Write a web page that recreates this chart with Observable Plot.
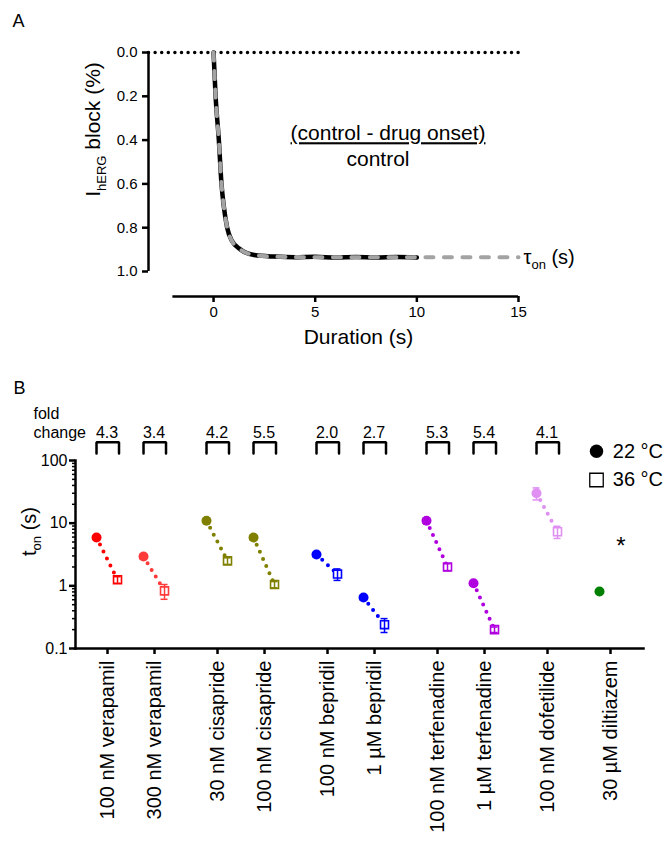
<!DOCTYPE html>
<html><head><meta charset="utf-8">
<script src="https://cdn.jsdelivr.net/npm/d3@7"></script>
<script src="https://cdn.jsdelivr.net/npm/@observablehq/plot@0.6"></script>
<style>
body{margin:0;background:#fff;font-family:"Liberation Sans",Arial,sans-serif;}
#chart{width:670px;height:843px;}
#chart svg{display:block;}
</style></head><body><div id="chart"></div>
<script>
// ---------- Panel A data ----------
const traceTime  = [0, 0.1, 0.26, 0.39, 0.5, 0.67, 0.9, 1.33, 2, 3, 4, 5, 6, 7, 8, 9, 10];
const traceBlock = [0, 0.2, 0.4, 0.6, 0.7, 0.8, 0.86, 0.9, 0.925, 0.932, 0.935, 0.933, 0.936, 0.934, 0.936, 0.934, 0.936];
const fitTime    = [0, 0.1, 0.26, 0.39, 0.5, 0.67, 0.9, 1.33, 2, 3, 5, 8, 10, 15];
const fitBlock   = [0, 0.2, 0.4, 0.6, 0.7, 0.8, 0.86, 0.9, 0.925, 0.932, 0.935, 0.935, 0.935, 0.935];
const controlTime  = [-3.2, 15];
const controlBlock = [0, 0];
const aYTicks = [0, 0.2, 0.4, 0.6, 0.8, 1.0];
const aXTicks = [0, 5, 10, 15];
const aXAxisStart = -2;

// ---------- Panel B data ----------
const conditions = ["100 nM verapamil", "300 nM verapamil", "30 nM cisapride", "100 nM cisapride",
  "100 nM bepridil", "1 µM bepridil", "100 nM terfenadine", "1 µM terfenadine", "100 nM dofetilide", "30 µM diltiazem"];
const drugs = ["verapamil", "verapamil", "cisapride", "cisapride", "bepridil", "bepridil",
  "terfenadine", "terfenadine", "dofetilide", "diltiazem"];
const colors = ["#ff0000", "#ff3a3a", "#808000", "#808000", "#0000ff", "#0000ff",
  "#b000e0", "#b000e0", "#e08ff2", "#008000"];
const ton22 = [5.9, 2.93, 10.9, 5.9, 3.16, 0.65, 10.9, 1.1, 30, 0.81];
const sem22 = [0.4, 0.25, 0.8, 0.5, 0.25, 0.05, 0.9, 0.08, 6.5, 0.05];
const ton36 = [1.25, 0.83, 2.5, 1.05, 1.54, 0.24, 2.0, 0.2, 7.3, null];
const sem36 = [0.15, 0.22, 0.3, 0.12, 0.32, 0.06, 0.25, 0.02, 1.6, null];
const foldChange = ["4.3", "3.4", "4.2", "5.5", "2.0", "2.7", "5.3", "5.4", "4.1", null];
const bYTicks = [0.1, 1, 10, 100];
const bYMinorTicks = [0.2,0.3,0.4,0.5,0.6,0.7,0.8,0.9, 2,3,4,5,6,7,8,9, 20,30,40,50,60,70,80,90];
const legendLabels = ["22 °C", "36 °C"];

const FONT = "'Liberation Sans', Arial, Helvetica, sans-serif";
const chart = document.getElementById("chart");
const C = {textAnchor: "middle", lineAnchor: "middle"};
const S = {textAnchor: "start", lineAnchor: "middle"};

function subscript(svg, full, pieces, subSize, shift) {
  svg.querySelectorAll("text").forEach(t => {
    if (t.textContent !== full) return;
    while (t.firstChild) t.removeChild(t.firstChild);
    let down = false;
    for (const [s, isSub] of pieces) {
      const ts = document.createElementNS("http://www.w3.org/2000/svg", "tspan");
      ts.textContent = s;
      if (isSub) { ts.setAttribute("dy", shift); ts.style.fontSize = subSize + "px"; down = true; }
      else if (down) { ts.setAttribute("dy", -shift); down = false; }
      t.appendChild(ts);
    }
  });
}

// ---------- Panel A ----------
const trace = traceTime.map((t, i) => ({t, b: traceBlock[i]}));
const fit = fitTime.map((t, i) => ({t, b: fitBlock[i]}));
const control = controlTime.map((t, i) => ({t, b: controlBlock[i]}));
const fitEnd = fit[fit.length - 1];

const plotA = Plot.plot({
  width: 670, height: 360,
  marginLeft: 148, marginRight: 152, marginTop: 52, marginBottom: 64,
  style: {fontFamily: FONT, fontSize: "15px", color: "black", background: "white"},
  x: {domain: [controlTime[0], 15]},
  y: {domain: [0, 1], range: [52, 271]},
  marks: [
    Plot.ruleX([controlTime[0]], {y1: 0, y2: 1, strokeWidth: 2.5}),
    Plot.ruleY([1], {x1: aXAxisStart, x2: 15, dy: 25, strokeWidth: 2.5}),
    Plot.axisY({ticks: aYTicks, tickFormat: d3.format(".1f"), tickSize: 6, tickPadding: 5, fontSize: 15, label: null, strokeWidth: 2.5}),
    Plot.axisX({ticks: aXTicks, tickSize: 6, tickPadding: 4, fontSize: 15, label: null, strokeWidth: 2.5}),
    Plot.line(control, {x: "t", y: "b", stroke: "black", strokeWidth: 3.5, strokeDasharray: "0,6.6", strokeLinecap: "round"}),
    Plot.line(trace, {x: "t", y: "b", stroke: "black", strokeWidth: 4.5, curve: "monotone-x"}),
    Plot.line(fit, {x: "t", y: "b", stroke: "#a3a3a3", strokeWidth: 4, strokeDasharray: "8,10.5", strokeLinecap: "round", curve: "monotone-x"}),
    Plot.text([fitEnd], {x: "t", y: "b", text: () => "τon (s)", dx: 5, ...S, fontSize: 20}),
    Plot.text(["(control - drug onset)"], {frameAnchor: "top-left", dx: 239.5, dy: 81, ...C, fontSize: 21}),
    Plot.text(["control"], {frameAnchor: "top-left", dx: 229.5, dy: 107, ...C, fontSize: 21}),
    Plot.text(["Duration (s)"], {frameAnchor: "bottom", dx: 25, dy: 41, ...C, fontSize: 21}),
    Plot.text(["IhERG block (%)"], {frameAnchor: "top-left", dx: -55, dy: 77, rotate: -90, ...C, fontSize: 21}),
    Plot.text(["A"], {frameAnchor: "top-left", dx: -136, dy: -31, ...S, fontSize: 18})
  ]
});
chart.appendChild(plotA);
subscript(plotA, "IhERG block (%)", [["I", false], ["hERG", true], [" block (%)", false]], 13, 6);
subscript(plotA, "τon (s)", [["τ", false], ["on", true], [" (s)", false]], 13, 5);
plotA.querySelectorAll("text").forEach(t => {
  if (t.textContent === "(control - drug onset)") {
    t.style.textDecoration = "underline";
    t.style.textDecorationThickness = "2.5px";
    t.style.textUnderlineOffset = "3px";
  }
});

// ---------- Panel B ----------
const idx = d3.range(conditions.length);
const GAP = 1.34;
const pos = [];
idx.forEach(i => pos.push(i === 0 ? 0 : pos[i - 1] + (drugs[i] === drugs[i - 1] ? 1 : GAP)));
const bLeft = 75, bRight = 27, bWidth = 670;
const xDomain = [pos[0] - 0.681, pos[pos.length - 1] + 0.702];
const pxPerUnit = (bWidth - bLeft - bRight) / (xDomain[1] - xDomain[0]);
const offC = -11 / pxPerUnit, offW = 10 / pxPerUnit, cap = 3.5 / pxPerUnit;
const decadePx = 188 / 3;
const above = px => 100 * Math.pow(10, px / decadePx);
const yTop = above(18.3), yBot = above(7);
const idx36 = idx.filter(i => ton36[i] != null);
const idxFold = idx.filter(i => foldChange[i] != null);
const brackets = idxFold.flatMap(i => {
  const xl = pos[i] + offC, xr = pos[i] + offW + 1.5 / pxPerUnit;
  return [{i, x: xl, y: yBot}, {i, x: xl, y: yTop}, {i, x: xr, y: yTop}, {i, x: xr, y: yBot}];
});

const plotB = Plot.plot({
  width: bWidth, height: 483,
  marginLeft: bLeft, marginRight: bRight, marginTop: 100, marginBottom: 195,
  style: {fontFamily: FONT, fontSize: "16px", color: "black", background: "white"},
  x: {domain: xDomain},
  y: {type: "log", domain: [0.1, 100], range: [288, 100]},
  color: {type: "identity"},
  marks: [
    Plot.frame({anchor: "left", strokeWidth: 2.5}),
    Plot.frame({anchor: "bottom", strokeWidth: 2.5}),
    Plot.axisY({ticks: bYTicks, tickFormat: d => String(d), tickSize: 6, tickPadding: 2, fontSize: 16, label: null, strokeWidth: 2.5}),
    Plot.axisY({ticks: bYMinorTicks, tickFormat: () => "", tickSize: 3, label: null, strokeWidth: 1.5}),
    Plot.axisX({ticks: pos, tickFormat: d => conditions[pos.indexOf(d)], tickRotate: -90, tickSize: 6, tickPadding: 6, fontSize: 20, label: null, strokeWidth: 2.5}),
    Plot.link(idx36, {x1: i => pos[i] + offC, y1: i => ton22[i], x2: i => pos[i] + offW, y2: i => ton36[i],
      stroke: i => colors[i], strokeWidth: 4, strokeDasharray: "0,7.8", strokeLinecap: "round"}),
    Plot.dot(idx36, {x: i => pos[i] + offW, y: i => ton36[i], symbol: "square", r: 4.5, stroke: i => colors[i], fill: "white", strokeWidth: 1.6}),
    Plot.ruleX(idx36, {x: i => pos[i] + offW, y1: i => ton36[i] - sem36[i], y2: i => ton36[i] + sem36[i], stroke: i => colors[i], strokeWidth: 1.5}),
    Plot.ruleY(idx36, {y: i => ton36[i] + sem36[i], x1: i => pos[i] + offW - cap, x2: i => pos[i] + offW + cap, stroke: i => colors[i], strokeWidth: 1.5}),
    Plot.ruleY(idx36, {y: i => ton36[i] - sem36[i], x1: i => pos[i] + offW - cap, x2: i => pos[i] + offW + cap, stroke: i => colors[i], strokeWidth: 1.5}),
    Plot.ruleX(idx, {x: i => pos[i] + offC, y1: i => ton22[i] - sem22[i], y2: i => ton22[i] + sem22[i], stroke: i => colors[i], strokeWidth: 1.5}),
    Plot.ruleY(idx, {y: i => ton22[i] + sem22[i], x1: i => pos[i] + offC - cap, x2: i => pos[i] + offC + cap, stroke: i => colors[i], strokeWidth: 1.5}),
    Plot.ruleY(idx, {y: i => ton22[i] - sem22[i], x1: i => pos[i] + offC - cap, x2: i => pos[i] + offC + cap, stroke: i => colors[i], strokeWidth: 1.5}),
    Plot.dot(idx, {x: i => pos[i] + offC, y: i => ton22[i], r: 5, fill: i => colors[i]}),
    Plot.line(brackets, {x: "x", y: "y", z: "i", stroke: "black", strokeWidth: 2.5, strokeLinejoin: "miter"}),
    Plot.text(idxFold, {x: i => pos[i] + (offC + offW) / 2, text: i => foldChange[i], frameAnchor: "top", dy: -28, ...C, fontSize: 16}),
    Plot.text(["fold\nchange"], {frameAnchor: "top-left", dx: -42, dy: -38.5, ...S, lineHeight: 1.2, fontSize: 16}),
    Plot.dot([0], {x: null, y: null, frameAnchor: "top-right", dx: -47, dy: -9.3, r: 6.7, fill: "black"}),
    Plot.dot([0], {x: null, y: null, frameAnchor: "top-right", dx: -47, dy: 19.5, r: 7.6, symbol: "square", stroke: "black", strokeWidth: 1.3, fill: "white"}),
    Plot.text([legendLabels[0]], {frameAnchor: "top-right", dx: -30.7, dy: -9.3, ...S, fontSize: 20}),
    Plot.text([legendLabels[1]], {frameAnchor: "top-right", dx: -30.7, dy: 19.5, ...S, fontSize: 20}),
    Plot.text(["*"], {frameAnchor: "top-right", dx: -22.5, dy: 86, ...C, fontSize: 24}),
    Plot.text(["ton (s)"], {frameAnchor: "top-left", dx: -46, dy: 71, rotate: -90, ...C, fontSize: 20}),
    Plot.text(["B"], {frameAnchor: "top-left", dx: -62, dy: -72.5, ...S, fontSize: 18})
  ]
});
chart.appendChild(plotB);
subscript(plotB, "ton (s)", [["t", false], ["on", true], [" (s)", false]], 13, 5);
</script></body></html>
